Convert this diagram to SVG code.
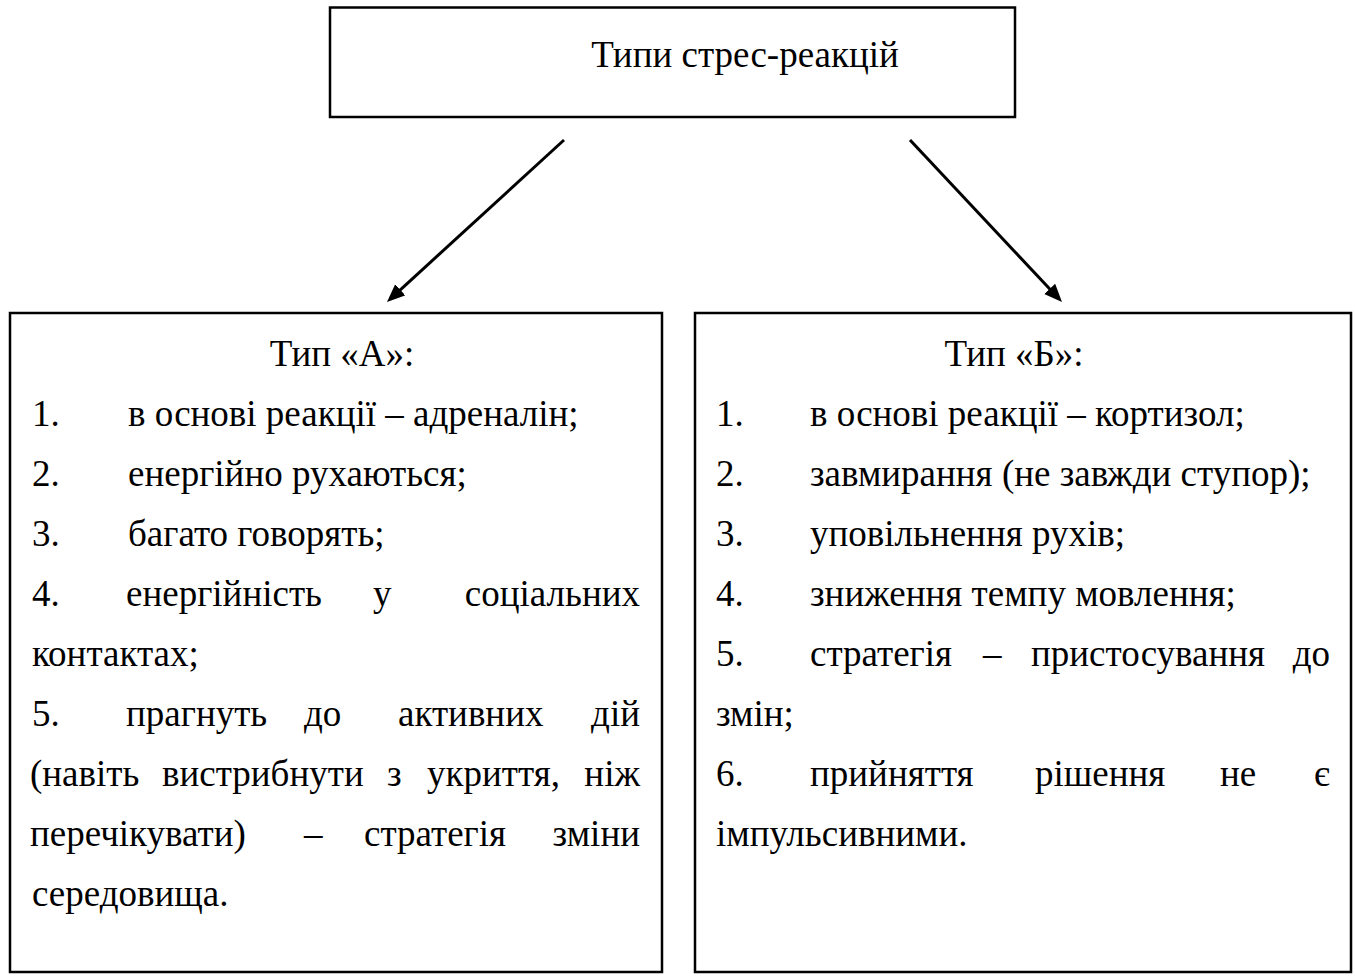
<svg xmlns="http://www.w3.org/2000/svg" width="1355" height="977" viewBox="0 0 1355 977">
<style>
.box{fill:#fff;stroke:#000;stroke-width:2.5}
.t{font-family:"Liberation Serif","Times New Roman",serif;font-size:37px;fill:#000}
.c{text-anchor:middle}
.e{text-anchor:end}
.conn{stroke:#000;stroke-width:3;fill:none}
</style>
<defs>
<marker id="ah" markerUnits="userSpaceOnUse" markerWidth="20" markerHeight="16" refX="4" refY="7.5" orient="auto">
<path d="M0,0 L18,7.5 L0,15 z" fill="#000"/>
</marker>
</defs>
<rect width="1355" height="977" fill="#fff"/>
<g id="connectors">
<line class="conn" x1="564" y1="140" x2="397.3" y2="292.6" marker-end="url(#ah)"/>
<line class="conn" x1="910" y1="140" x2="1052.4" y2="291.8" marker-end="url(#ah)"/>
</g>
<g id="node-top">
<rect class="box" x="330" y="7.5" width="685" height="109.5" stroke-width="3"/>
<text class="t c" x="745" y="67">Типи стрес-реакцій</text>
</g>
<g id="node-a">
<rect class="box" x="10" y="313" width="652" height="659"/>
<text class="t c" x="342" y="366">Тип «А»:</text>
<text class="t" x="32" y="426">1.</text><text class="t" x="128" y="426">в основі реакції – адреналін;</text>
<text class="t" x="32" y="486">2.</text><text class="t" x="128" y="486">енергійно рухаються;</text>
<text class="t" x="32" y="546">3.</text><text class="t" x="128" y="546">багато говорять;</text>
<text class="t" x="32" y="606">4.</text><text class="t" x="126" y="606">енергійність</text><text class="t" x="373" y="606">у</text><text class="t e" x="640" y="606">соціальних</text>
<text class="t" x="32" y="666">контактах;</text>
<text class="t" x="32" y="726">5.</text><text class="t" x="126" y="726">прагнуть</text><text class="t" x="304" y="726">до</text><text class="t" x="398" y="726">активних</text><text class="t e" x="640" y="726">дій</text>
<text class="t" x="30" y="786">(навіть</text><text class="t" x="162" y="786">вистрибнути</text><text class="t" x="387" y="786">з</text><text class="t" x="427" y="786">укриття,</text><text class="t e" x="640" y="786">ніж</text>
<text class="t" x="30" y="846">перечікувати)</text><text class="t" x="304" y="846">–</text><text class="t" x="364" y="846">стратегія</text><text class="t e" x="640" y="846">зміни</text>
<text class="t" x="32" y="906">середовища.</text>
</g>
<g id="node-b">
<rect class="box" x="695" y="313" width="656" height="659"/>
<text class="t c" x="1014" y="366">Тип «Б»:</text>
<text class="t" x="716" y="426">1.</text><text class="t" x="810" y="426">в основі реакції – кортизол;</text>
<text class="t" x="716" y="486">2.</text><text class="t" x="810" y="486">завмирання (не завжди ступор);</text>
<text class="t" x="716" y="546">3.</text><text class="t" x="810" y="546">уповільнення рухів;</text>
<text class="t" x="716" y="606">4.</text><text class="t" x="810" y="606">зниження темпу мовлення;</text>
<text class="t" x="716" y="666">5.</text><text class="t" x="810" y="666">стратегія</text><text class="t" x="983" y="666">–</text><text class="t" x="1031" y="666">пристосування</text><text class="t e" x="1330" y="666">до</text>
<text class="t" x="716" y="726">змін;</text>
<text class="t" x="716" y="786">6.</text><text class="t" x="810" y="786">прийняття</text><text class="t" x="1035" y="786">рішення</text><text class="t" x="1220" y="786">не</text><text class="t e" x="1330" y="786">є</text>
<text class="t" x="716" y="846">імпульсивними.</text>
</g>
</svg>
